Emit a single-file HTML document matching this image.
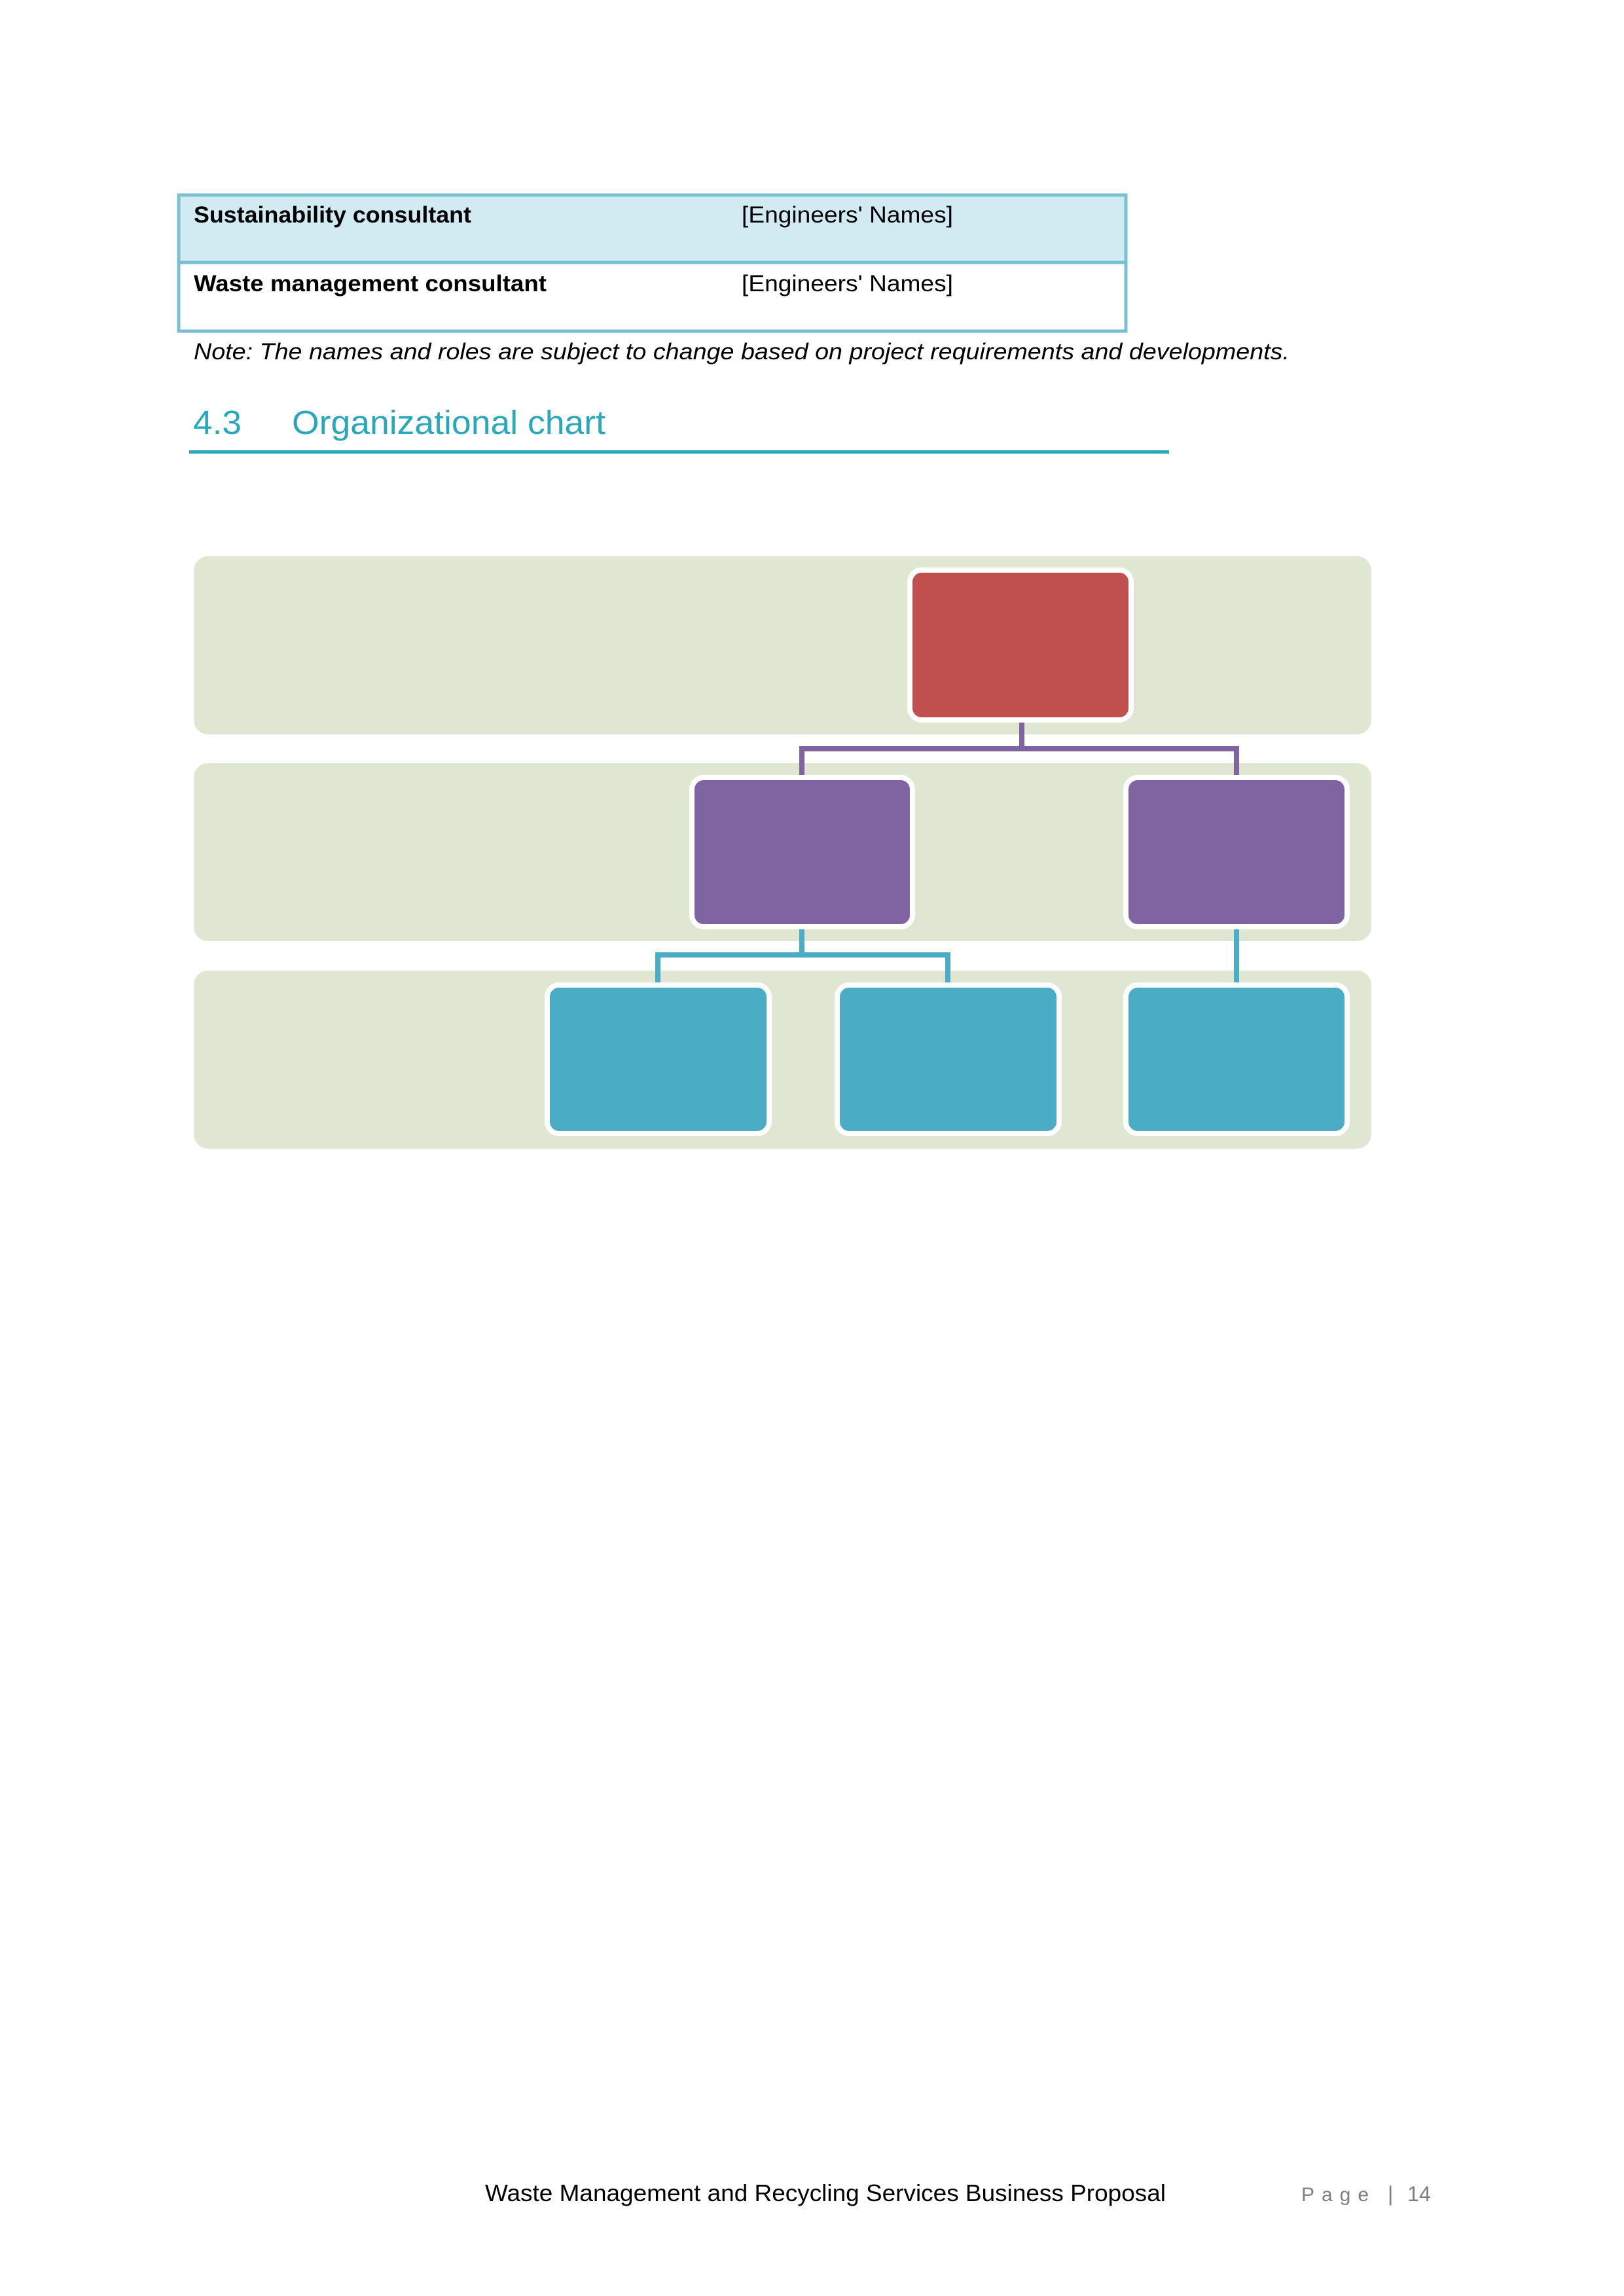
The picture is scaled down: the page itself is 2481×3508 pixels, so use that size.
<!DOCTYPE html>
<html><head><meta charset="utf-8"><style>
html,body{margin:0;padding:0;background:#fff;}
svg{display:block;}
</style></head><body>
<svg width="2481" height="3508" viewBox="0 0 2481 3508" xmlns="http://www.w3.org/2000/svg" font-family="Liberation Sans, sans-serif">
<rect width="2481" height="3508" fill="#fff"/>
<!-- table -->
<rect x="273" y="298" width="1447" height="103" fill="#d2eaf1"/>
<rect x="273" y="298" width="1447" height="208" fill="none" stroke="#78c0d4" stroke-width="5"/>
<line x1="273" y1="401" x2="1720" y2="401" stroke="#78c0d4" stroke-width="5"/>
<text x="296" y="340" font-size="35" font-weight="bold" textLength="424" lengthAdjust="spacingAndGlyphs">Sustainability consultant</text>
<text x="1133" y="340" font-size="35" textLength="323" lengthAdjust="spacingAndGlyphs">[Engineers' Names]</text>
<text x="296" y="445" font-size="35" font-weight="bold" textLength="539" lengthAdjust="spacingAndGlyphs">Waste management consultant</text>
<text x="1133" y="445" font-size="35" textLength="323" lengthAdjust="spacingAndGlyphs">[Engineers' Names]</text>
<text x="296" y="549" font-size="35" font-style="italic" textLength="1674" lengthAdjust="spacingAndGlyphs">Note: The names and roles are subject to change based on project requirements and developments.</text>
<!-- heading -->
<text x="295" y="663" font-size="51" fill="#2aa8bb" textLength="74" lengthAdjust="spacingAndGlyphs">4.3</text>
<text x="446" y="663" font-size="51" fill="#2aa8bb" textLength="479" lengthAdjust="spacingAndGlyphs">Organizational chart</text>
<rect x="289" y="688" width="1497" height="5" fill="#2aa8bb"/>
<!-- bands -->
<rect x="296" y="850" width="1799" height="272" rx="22" fill="#dfe7d2"/>
<rect x="296" y="1166" width="1799" height="272" rx="22" fill="#dfe7d2"/>
<rect x="296" y="1483" width="1799" height="272" rx="22" fill="#dfe7d2"/>
<!-- connectors -->
<g fill="none" stroke="#8064a2" stroke-width="8">
<polyline points="1561,1099 1561,1144 1225,1144 1225,1186"/>
<polyline points="1561,1144 1889,1144 1889,1186"/>
</g>
<g fill="none" stroke="#4bacc6" stroke-width="8">
<polyline points="1225,1415 1225,1459 1005,1459 1005,1503"/>
<polyline points="1225,1459 1448,1459 1448,1503"/>
<line x1="1889" y1="1415" x2="1889" y2="1503"/>
</g>
<!-- boxes -->
<g stroke="#fff" stroke-width="8">
<rect x="1390" y="871" width="338" height="229" rx="18" fill="#c0504d"/>
<rect x="1057" y="1188" width="337" height="228" rx="18" fill="#8064a2"/>
<rect x="1720" y="1188" width="338" height="228" rx="18" fill="#8064a2"/>
<rect x="836" y="1505" width="339" height="227" rx="18" fill="#4bacc6"/>
<rect x="1279" y="1505" width="339" height="227" rx="18" fill="#4bacc6"/>
<rect x="1720" y="1505" width="338" height="227" rx="18" fill="#4bacc6"/>
</g>
<!-- footer -->
<text x="741" y="3363" font-size="36" textLength="1040" lengthAdjust="spacingAndGlyphs">Waste Management and Recycling Services Business Proposal</text>
<text x="1988" y="3363" font-size="30" fill="#7f7f7f" textLength="103" lengthAdjust="spacing">Page</text>
<text x="2120" y="3363" font-size="32" fill="#7f7f7f">|</text>
<text x="2150" y="3363" font-size="32" fill="#7f7f7f" textLength="36" lengthAdjust="spacingAndGlyphs">14</text>
</svg>
</body></html>
